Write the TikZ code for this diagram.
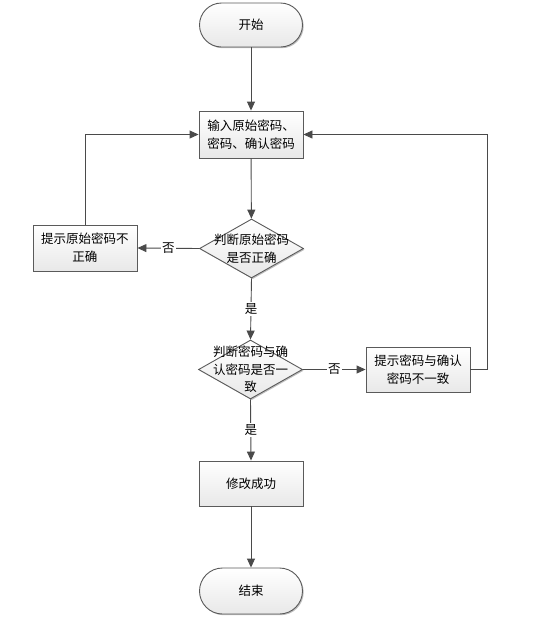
\documentclass[tikz,border=0pt]{standalone}
\usepackage{fontspec}
\setmainfont{Noto Sans CJK SC}
\usetikzlibrary{shapes.geometric,arrows.meta,shadows}
\definecolor{edge}{HTML}{4A4A4A}
\definecolor{frame}{HTML}{5A5A5A}
\begin{document}
\begin{tikzpicture}[x=1pt,y=-1pt,
  every node/.style={font=\fontsize{12.5}{18}\selectfont},
  basebox/.style={draw=frame, line width=0.9pt, top color=white, bottom color=black!9,
     drop shadow={shadow xshift=1.2pt, shadow yshift=-1.2pt, opacity=0.25, fill=black}},
  procbox/.style={basebox, rectangle, minimum width=104pt, minimum height=46pt, align=center, inner sep=2pt},
  termbox/.style={basebox, rectangle, rounded corners=22pt, minimum width=103pt, minimum height=44pt},
  decbox/.style={basebox, diamond, minimum width=104pt, minimum height=59pt, inner sep=0pt},
  conn/.style={draw=edge, line width=0.9pt, -{Triangle[length=9pt,width=8pt]}},
  elabel/.style={fill=white, inner sep=1.5pt, text=black}
]
\useasboundingbox (0,0) rectangle (534,622);
\node[termbox] (start) at (251,25) {开始};
\node[procbox, minimum height=47pt] (input) at (251,134.5) {输入原始密码、\\密码、确认密码};
\node[decbox, label={[align=center, font=\fontsize{12.5}{17.5}\selectfont]center:判断原始密码\\是否正确}] (chk1) at (251.5,248.5) {};
\node[procbox] (err1) at (85,248) {提示原始密码不\\正确};
\node[decbox, label={[align=center, font=\fontsize{12.5}{17.5}\selectfont]center:判断密码与确\\认密码是否一\\致}] (chk2) at (250.5,369.5) {};
\node[procbox, minimum height=45pt] (err2) at (418,369.5) {提示密码与确认\\密码不一致};
\node[procbox, minimum height=45pt] (ok) at (251,483.5) {修改成功};
\node[termbox, minimum height=46pt, rounded corners=23pt] (stop) at (251,591) {结束};
\coordinate (leftup) at (85,134.5);
\coordinate (rightdown) at (487,369.5);
\coordinate (rightup) at (487,134.5);

\draw[conn] (start) -- (input);
\draw[conn] (input) -- (chk1);
\draw[conn] (chk1.west) -- node[elabel, pos=0.5] (no1) {否} (err1.east);
\draw[conn] (err1.north) -- (leftup) -- (input.west);
\draw[conn] (chk1.south) -- node[elabel, pos=0.5] (yes1) {是} (chk2.north);
\draw[conn] (chk2.east) -- node[elabel, pos=0.5] (no2) {否} (err2.west);
\draw[conn] (err2.east) -- (rightdown) -- (rightup) -- (input.east);
\draw[conn] (chk2.south) -- node[elabel, pos=0.5] (yes2) {是} (ok.north);
\draw[conn] (ok) -- (stop);
\end{tikzpicture}
\end{document}
